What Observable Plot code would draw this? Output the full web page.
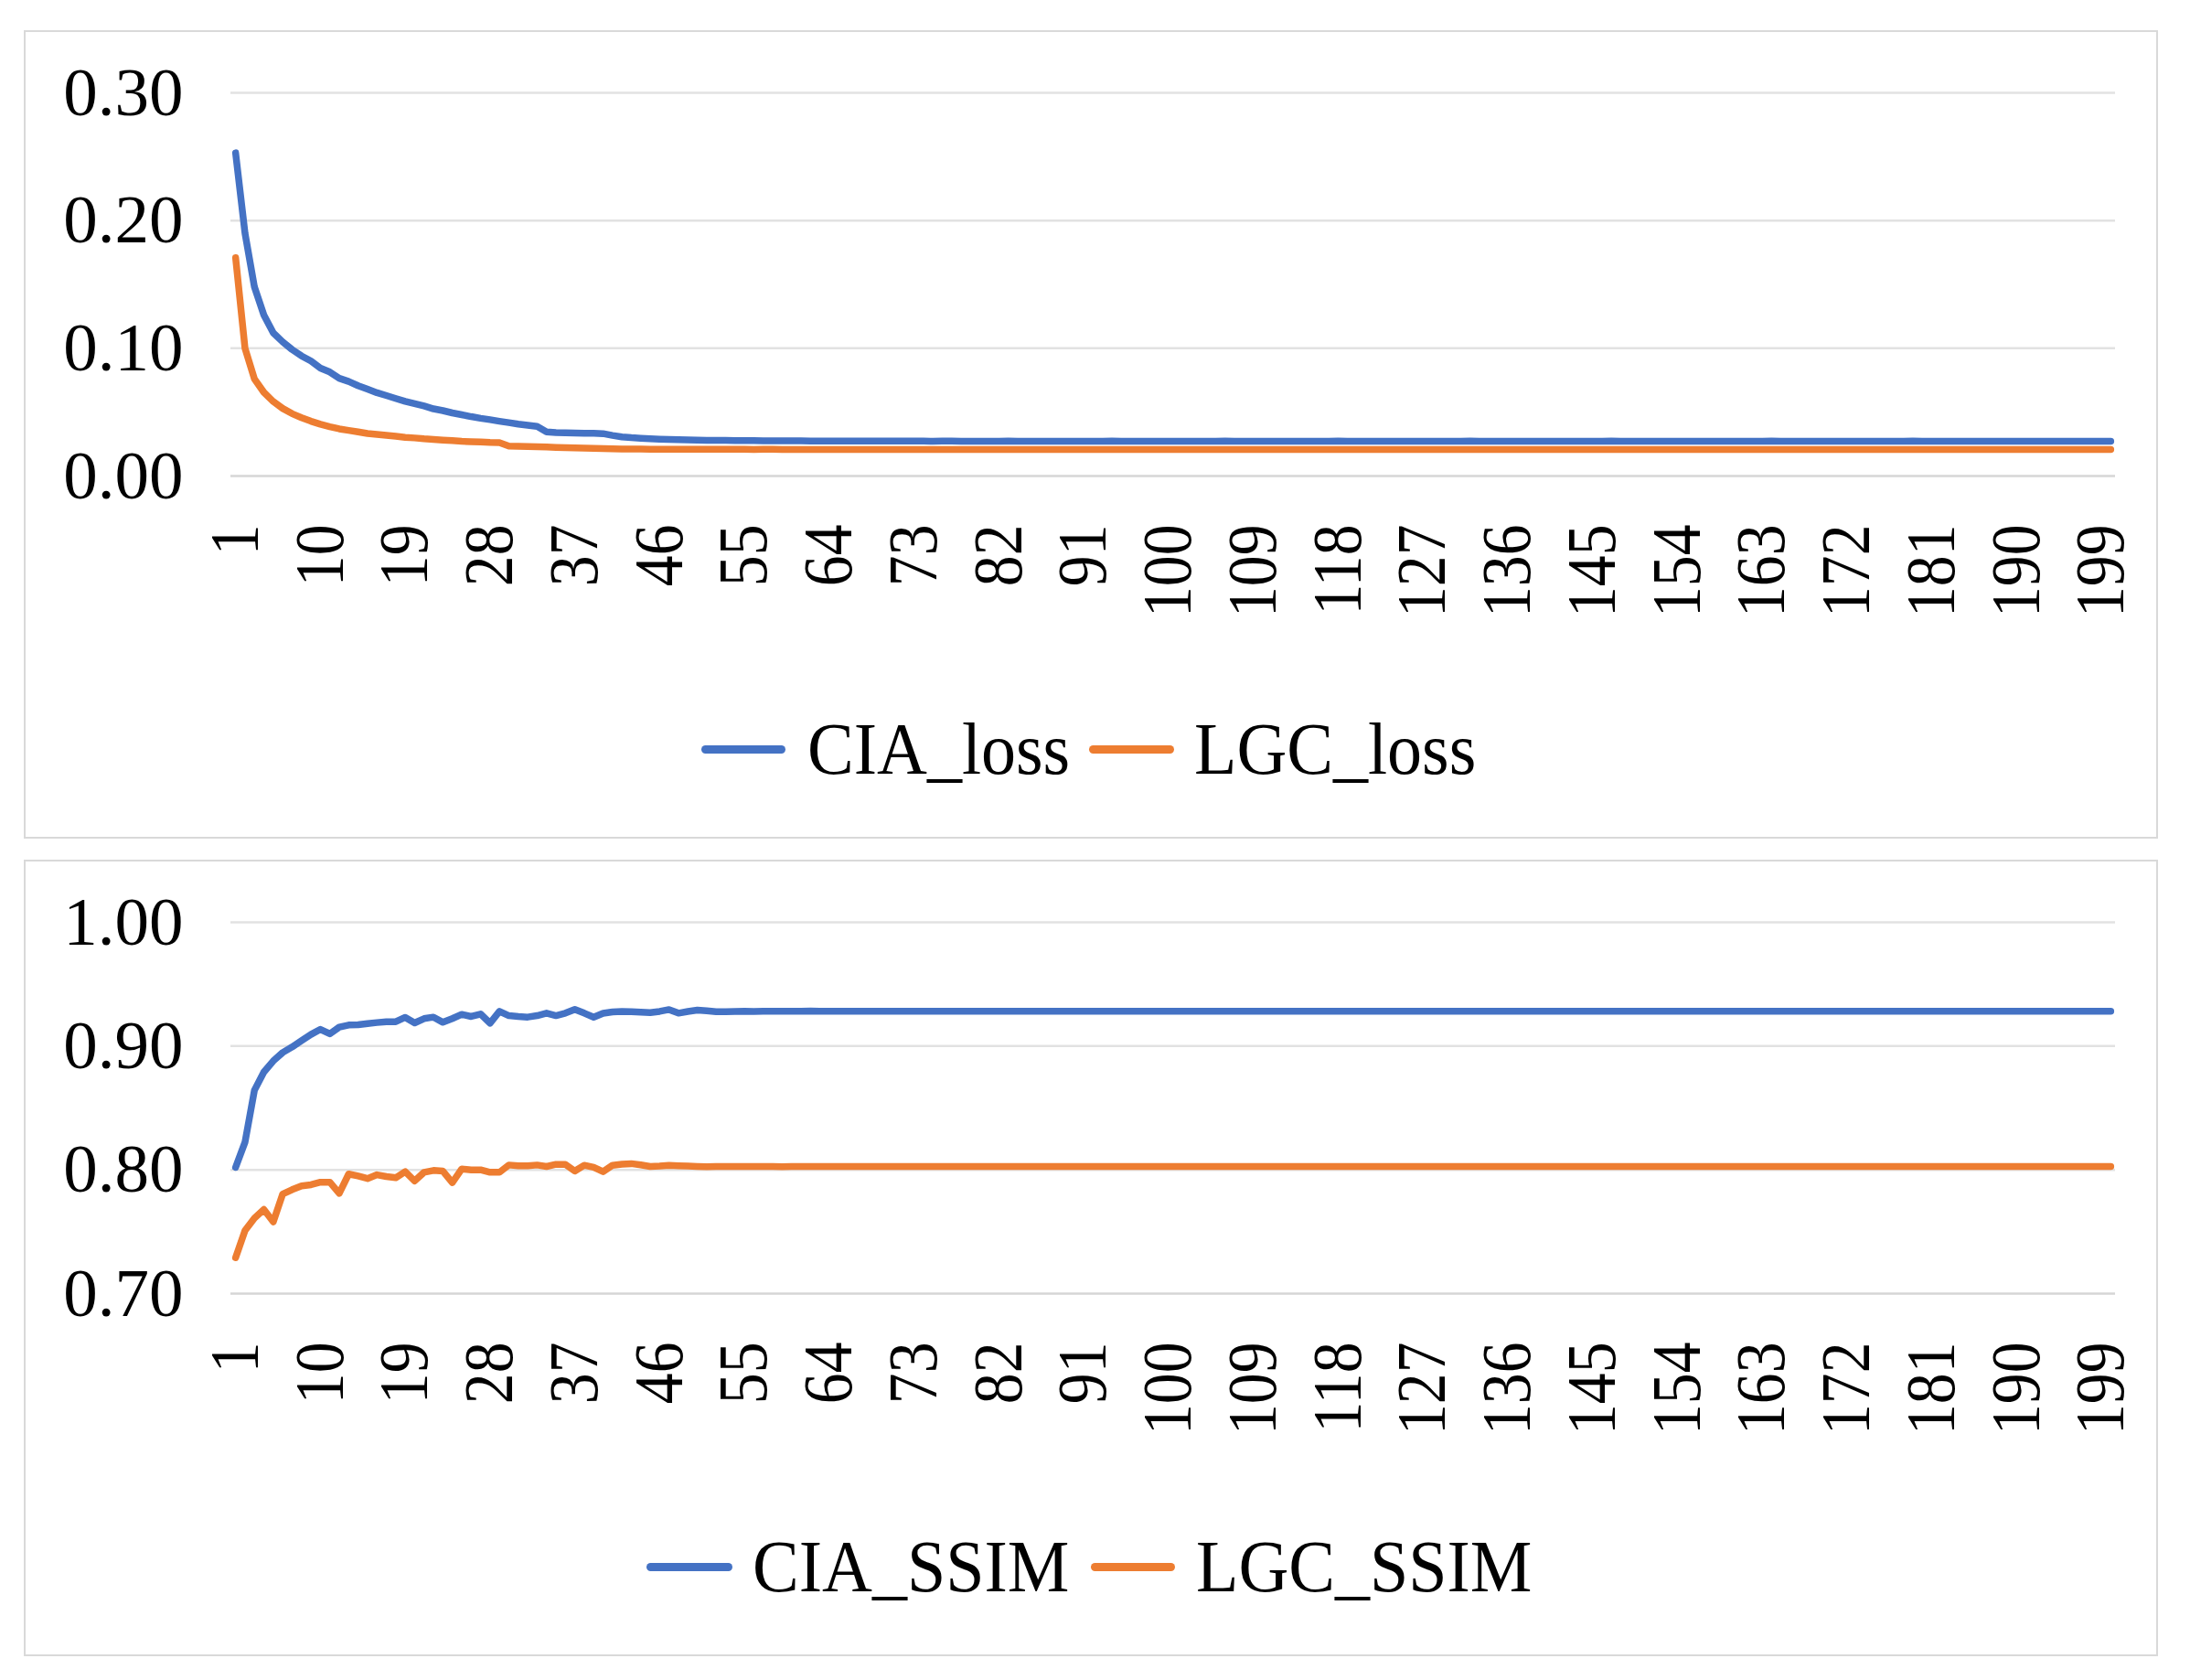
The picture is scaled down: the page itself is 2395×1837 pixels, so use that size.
<!DOCTYPE html>
<html><head><meta charset="utf-8">
<script src="https://cdn.jsdelivr.net/npm/d3@7"></script>
<script src="https://cdn.jsdelivr.net/npm/@observablehq/plot@0.6"></script>
<style>
html,body{margin:0;padding:0;background:#fff;}
body{position:relative;width:2395px;height:1837px;overflow:hidden;font-family:'Liberation Serif','Times New Roman',serif;}
.panel{position:absolute;box-sizing:border-box;border:2px solid #d9d9d9;}
.chart{position:absolute;left:0;}
.sw{position:absolute;height:9px;border-radius:4.5px;}
.lt{position:absolute;font-size:80px;line-height:80px;white-space:nowrap;transform:scaleX(0.95);transform-origin:0 0;color:#000;}
</style></head><body>
<div class="panel" style="left:26px;top:33px;width:2334px;height:884px"></div>
<div class="panel" style="left:26px;top:940px;width:2334px;height:871px"></div>
<div id="c1" class="chart" style="top:0px"></div>
<div id="c2" class="chart" style="top:900px"></div>
<div id="legends"></div>
<script>
// ---- data ----
const epochs = d3.range(1, 201);
const xTickLabels = [1,10,19,28,37,46,55,64,73,82,91,100,109,118,127,136,145,154,163,172,181,190,199];
const lossTicks = [0, 0.1, 0.2, 0.3];
const ssimTicks = [0.7, 0.8, 0.9, 1.0];
const lossNames = ["CIA_loss", "LGC_loss"];
const ssimNames = ["CIA_SSIM", "LGC_SSIM"];
const colors = ["#4472C4", "#ED7D31"];

const ciaLoss = [
0.253,0.190,0.148,0.126,0.112,0.105,0.099,0.094,0.090,0.0845,
0.0814,0.0765,0.0740,0.0707,0.0680,0.0652,0.0630,0.0607,0.0585,0.0567,
0.0548,0.0526,0.0512,0.0494,0.0480,0.0465,0.0452,0.0441,0.0429,0.0418,
0.0406,0.0398,0.0388,0.0346,0.0340,0.0338,0.0336,0.0335,0.0334,0.0332,
0.0318,0.0306,0.0300,0.0296,0.0292,0.0289,0.0286,0.0284,0.0283,0.0281,
0.0280,0.0279,0.0279,0.0278,0.0277,0.0277,0.0276,0.0276,0.0275,0.0275,
0.0275,0.0274,0.0274,0.0274,0.0274,0.0273,0.0273,0.0273,0.0273,0.0273,
0.0273,0.0273,0.0273,0.0273,0.0272,0.0273,0.0273,0.0272,0.0272,0.0272,
0.0272,0.0272,0.0273,0.0272,0.0272,0.0272,0.0272,0.0272,0.0272,0.0272,
0.0272,0.0272,0.0272,0.0273,0.0272,0.0272,0.0272,0.0272,0.0272,0.0272,
0.0272,0.0272,0.0272,0.0272,0.0272,0.0273,0.0272,0.0272,0.0272,0.0272,
0.0272,0.0272,0.0272,0.0272,0.0272,0.0272,0.0272,0.0273,0.0272,0.0272,
0.0272,0.0272,0.0272,0.0272,0.0272,0.0272,0.0272,0.0272,0.0272,0.0272,
0.0272,0.0273,0.0272,0.0272,0.0272,0.0272,0.0272,0.0272,0.0272,0.0272,
0.0272,0.0272,0.0272,0.0272,0.0272,0.0272,0.0273,0.0272,0.0272,0.0272,
0.0272,0.0272,0.0272,0.0272,0.0272,0.0272,0.0272,0.0272,0.0272,0.0272,
0.0272,0.0272,0.0272,0.0273,0.0272,0.0272,0.0272,0.0272,0.0272,0.0272,
0.0272,0.0272,0.0272,0.0272,0.0272,0.0272,0.0272,0.0272,0.0273,0.0272,
0.0272,0.0272,0.0272,0.0272,0.0272,0.0272,0.0272,0.0272,0.0272,0.0272,
0.0272,0.0272,0.0272,0.0272,0.0272,0.0272,0.0272,0.0272,0.0272,0.0272
];
const lgcLoss = [
0.171,0.100,0.076,0.0655,0.0583,0.0529,0.0488,0.0457,0.0429,0.0405,
0.0386,0.0369,0.0357,0.0345,0.0333,0.0326,0.0319,0.0311,0.0303,0.0298,
0.0291,0.0286,0.0281,0.0277,0.0272,0.0269,0.0267,0.0263,0.0261,0.0235,
0.0233,0.0231,0.0229,0.0227,0.0224,0.0222,0.0220,0.0218,0.0216,0.0214,
0.0213,0.0212,0.0211,0.0211,0.0210,0.0210,0.0210,0.0210,0.0209,0.0209,
0.0209,0.0209,0.0209,0.0209,0.0209,0.0208,0.0209,0.0209,0.0208,0.0208,
0.0208,0.0208,0.0208,0.0208,0.0208,0.0208,0.0208,0.0208,0.0208,0.0208,
0.0208,0.0208,0.0208,0.0208,0.0208,0.0208,0.0208,0.0208,0.0208,0.0208,
0.0208,0.0208,0.0208,0.0208,0.0208,0.0208,0.0208,0.0208,0.0208,0.0208,
0.0208,0.0208,0.0208,0.0208,0.0208,0.0208,0.0208,0.0208,0.0208,0.0208,
0.0208,0.0208,0.0208,0.0208,0.0208,0.0208,0.0208,0.0208,0.0208,0.0208,
0.0208,0.0208,0.0208,0.0208,0.0208,0.0208,0.0208,0.0208,0.0208,0.0208,
0.0208,0.0208,0.0208,0.0208,0.0208,0.0208,0.0208,0.0208,0.0208,0.0208,
0.0208,0.0208,0.0208,0.0208,0.0208,0.0208,0.0208,0.0208,0.0208,0.0208,
0.0208,0.0208,0.0208,0.0208,0.0208,0.0208,0.0208,0.0208,0.0208,0.0208,
0.0208,0.0208,0.0208,0.0208,0.0208,0.0208,0.0208,0.0208,0.0208,0.0208,
0.0208,0.0208,0.0208,0.0208,0.0208,0.0208,0.0208,0.0208,0.0208,0.0208,
0.0208,0.0208,0.0208,0.0208,0.0208,0.0208,0.0208,0.0208,0.0208,0.0208,
0.0208,0.0208,0.0208,0.0208,0.0208,0.0208,0.0208,0.0208,0.0208,0.0208,
0.0208,0.0208,0.0208,0.0208,0.0208,0.0208,0.0208,0.0208,0.0208,0.0208
];
const ciaSsim = [
0.802,0.8224,0.8643,0.879,0.888,0.8948,0.8993,0.9044,0.9094,0.9135,
0.9099,0.9153,0.917,0.9172,0.9182,0.919,0.9197,0.9197,0.9232,0.9187,
0.9222,0.9234,0.9192,0.9222,0.9256,0.9239,0.9259,0.9185,0.9281,0.9246,
0.9239,0.9234,0.9246,0.9266,0.9246,0.9266,0.9296,0.9266,0.9233,0.9265,
0.9276,0.928,0.9278,0.9274,0.927,0.928,0.9295,0.9266,0.928,0.929,
0.9285,0.9278,0.9278,0.928,0.9282,0.928,0.9281,0.9282,0.9282,0.9282,
0.9282,0.9283,0.9282,0.9282,0.9282,0.9281,0.9281,0.9282,0.9282,0.9282,
0.9282,0.9282,0.9282,0.9282,0.9282,0.9282,0.9282,0.9282,0.9282,0.9282,
0.9282,0.9282,0.9282,0.9282,0.9282,0.9282,0.9282,0.9282,0.9282,0.9282,
0.9282,0.9282,0.9282,0.9282,0.9282,0.9282,0.9282,0.9282,0.9282,0.9282,
0.9282,0.9282,0.9282,0.9282,0.9282,0.9282,0.9282,0.9282,0.9282,0.9282,
0.9282,0.9282,0.9282,0.9282,0.9282,0.9282,0.9282,0.9282,0.9282,0.9282,
0.9282,0.9282,0.9282,0.9282,0.9282,0.9282,0.9282,0.9282,0.9282,0.9282,
0.9282,0.9282,0.9282,0.9282,0.9282,0.9282,0.9282,0.9282,0.9282,0.9282,
0.9282,0.9282,0.9282,0.9282,0.9282,0.9282,0.9282,0.9282,0.9282,0.9282,
0.9282,0.9282,0.9282,0.9282,0.9282,0.9282,0.9282,0.9282,0.9282,0.9282,
0.9282,0.9282,0.9282,0.9282,0.9282,0.9282,0.9282,0.9282,0.9282,0.9282,
0.9282,0.9282,0.9282,0.9282,0.9282,0.9282,0.9282,0.9282,0.9282,0.9282,
0.9282,0.9282,0.9282,0.9282,0.9282,0.9282,0.9282,0.9282,0.9282,0.9282,
0.9282,0.9282,0.9282,0.9282,0.9282,0.9282,0.9282,0.9282,0.9282,0.9282
];
const lgcSsim = [
0.729,0.751,0.761,0.768,0.758,0.7805,0.784,0.787,0.788,0.790,
0.790,0.781,0.7966,0.795,0.793,0.796,0.7946,0.7936,0.7985,0.791,
0.798,0.7995,0.799,0.7897,0.8007,0.800,0.800,0.798,0.798,0.8039,
0.8032,0.8032,0.8039,0.8027,0.8044,0.8044,0.799,0.8037,0.802,0.7985,
0.8037,0.8045,0.805,0.804,0.8027,0.803,0.8037,0.8033,0.803,0.8027,
0.8025,0.8027,0.8028,0.8027,0.8027,0.8028,0.8027,0.8027,0.8026,0.8027,
0.8027,0.8027,0.8027,0.8027,0.8027,0.8027,0.8027,0.8027,0.8027,0.8027,
0.8027,0.8027,0.8027,0.8027,0.8027,0.8027,0.8027,0.8027,0.8027,0.8027,
0.8027,0.8027,0.8027,0.8027,0.8027,0.8027,0.8027,0.8027,0.8027,0.8027,
0.8027,0.8027,0.8027,0.8027,0.8027,0.8027,0.8027,0.8027,0.8027,0.8027,
0.8027,0.8027,0.8027,0.8027,0.8027,0.8027,0.8027,0.8027,0.8027,0.8027,
0.8027,0.8027,0.8027,0.8027,0.8027,0.8027,0.8027,0.8027,0.8027,0.8027,
0.8027,0.8027,0.8027,0.8027,0.8027,0.8027,0.8027,0.8027,0.8027,0.8027,
0.8027,0.8027,0.8027,0.8027,0.8027,0.8027,0.8027,0.8027,0.8027,0.8027,
0.8027,0.8027,0.8027,0.8027,0.8027,0.8027,0.8027,0.8027,0.8027,0.8027,
0.8027,0.8027,0.8027,0.8027,0.8027,0.8027,0.8027,0.8027,0.8027,0.8027,
0.8027,0.8027,0.8027,0.8027,0.8027,0.8027,0.8027,0.8027,0.8027,0.8027,
0.8027,0.8027,0.8027,0.8027,0.8027,0.8027,0.8027,0.8027,0.8027,0.8027,
0.8027,0.8027,0.8027,0.8027,0.8027,0.8027,0.8027,0.8027,0.8027,0.8027,
0.8027,0.8027,0.8027,0.8027,0.8027,0.8027,0.8027,0.8027,0.8027,0.8027
];

// ---- drawing ----
const FONT = "'Liberation Serif','Times New Roman',serif";
function toRows(vals) { return epochs.map((e, i) => ({epoch: e, v: vals[i]})); }

function drawChart(target, seriesList, yTicks, yDomain, marginTop, marginBottom) {
  const chart = Plot.plot({
    width: 2395,
    height: 700,
    marginLeft: 252,
    marginRight: 82,
    marginTop,
    marginBottom,
    style: {fontFamily: FONT, color: "#000", background: "transparent", overflow: "visible"},
    x: {domain: [0.5, 200.5], label: null},
    y: {domain: yDomain, label: null},
    marks: [
      Plot.gridY(yTicks.slice(1), {stroke: "#e2e2e2", strokeOpacity: 1, strokeWidth: 2.5}),
      Plot.ruleY([yTicks[0]], {stroke: "#d6d6d6", strokeWidth: 2.5}),
      Plot.axisY({ticks: yTicks, tickSize: 0, tickPadding: 52, fontSize: 75, label: null, tickFormat: d3.format(".2f")}),
      Plot.axisX({ticks: xTickLabels, tickSize: 0, tickPadding: 53, tickRotate: -90, fontSize: 76, label: null, tickFormat: d => String(d)}),
      ...seriesList.map((vals, k) => Plot.line(toRows(vals), {
        x: "epoch", y: "v", stroke: colors[k], strokeWidth: 7.5,
        strokeLinecap: "round", strokeLinejoin: "round"
      }))
    ]
  });
  chart.querySelectorAll('g[aria-label="x-axis tick label"] text').forEach(t => {
    const tr = t.getAttribute("transform");
    if (tr) t.setAttribute("transform", tr + " scale(0.89,1)");
  });
  document.getElementById(target).appendChild(chart);
}

drawChart("c1", [ciaLoss, lgcLoss], lossTicks, [0, 0.3], 101, 180);
drawChart("c2", [ciaSsim, lgcSsim], ssimTicks, [0.7, 1.0], 108, 186);

// ---- legends (HTML, below each plot) ----
const legendLayout = [
  {names: lossNames, swX: [767, 1191], swW: [92, 93], txtX: [883, 1306], cy: 819, baseline: 846},
  {names: ssimNames, swX: [707, 1193], swW: [94, 92], txtX: [823, 1308], cy: 1713, baseline: 1740}
];
const legRoot = document.getElementById("legends");
legendLayout.forEach(L => {
  L.names.forEach((name, k) => {
    const sw = document.createElement("div");
    sw.className = "sw";
    sw.style.left = L.swX[k] + "px";
    sw.style.width = L.swW[k] + "px";
    sw.style.top = (L.cy - 4.5) + "px";
    sw.style.background = colors[k];
    legRoot.appendChild(sw);
    const tx = document.createElement("div");
    tx.className = "lt";
    tx.textContent = name;
    tx.style.left = L.txtX[k] + "px";
    tx.style.top = (L.baseline - 67) + "px";
    legRoot.appendChild(tx);
  });
});
</script>
</body></html>
